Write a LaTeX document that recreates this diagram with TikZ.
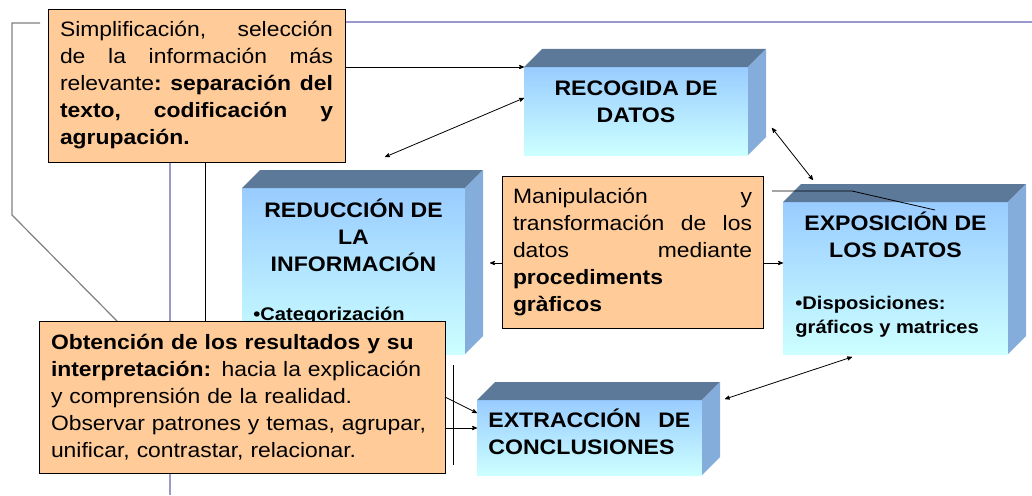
\documentclass[tikz,border=0pt]{standalone}
\usepackage{fontspec}
\setmainfont{Liberation Sans}[FakeStretch=1.1]
\usetikzlibrary{arrows}
\usetikzlibrary{positioning}
\definecolor{peach}{RGB}{255,204,153}
\definecolor{facetop}{RGB}{93,121,153}
\definecolor{faceside}{RGB}{132,173,220}
\definecolor{frontup}{RGB}{153,204,255}
\definecolor{frontdown}{RGB}{204,255,255}
\definecolor{slideline}{RGB}{153,153,204}
% top and right faces of a box
\newcommand{\cubefaces}[1]{%
  \fill[facetop] (#1.north west) -- ++(18,-18) -- ([shift={(18,-18)}]#1.north east) -- (#1.north east) -- cycle;
  \fill[faceside] (#1.north east) -- ++(18,-18) -- ([shift={(18,-18)}]#1.south east) -- (#1.south east) -- cycle;}

\begin{document}
\begin{tikzpicture}[x=1pt,y=-1pt,>=stealth',line width=0.8pt,
    front/.style={rectangle,inner sep=0pt,outer sep=0pt,top color=frontup,bottom color=frontdown},
    title/.style={font=\fontsize{21}{27}\selectfont\bfseries,align=center,inner sep=0pt},
    bullet/.style={font=\fontsize{18.3}{24}\selectfont\bfseries,align=left,inner sep=0pt},
    note/.style={rectangle,draw=black,line width=0.8pt,fill=peach,inner ysep=4pt,outer sep=0pt,align=justify,font=\fontsize{20.8}{27}\selectfont}]
  \useasboundingbox (0,0) rectangle (1032,495);
  % slide lines
  \draw[slideline,line width=2pt] (170,22) -- (1032,22);
  \draw[slideline,line width=2pt] (170,22) -- (170,495);
  \coordinate (g1) at (40,23);
  \coordinate (g2) at (12,23);
  \coordinate (g3) at (12,215);
  \coordinate (g4) at (117,321);
  \draw[gray,line width=1.2pt] (g1) -- (g2) -- (g3) -- (g4);

  % boxes
  \node[front,minimum width=224pt,minimum height=88pt] (recogida) at (636,111) {};
  \cubefaces{recogida}
  \node[title,below=13.5pt of recogida.north] (recogidaT) {RECOGIDA DE\\DATOS};

  \node[front,minimum width=223pt,minimum height=166pt] (reduccion) at (353.5,271) {};
  \cubefaces{reduccion}
  \node[title,below=10pt of reduccion.north] (reduccionT) {REDUCCIÓN DE\\LA\\INFORMACIÓN};
  \node[bullet,below right=119pt and 11pt of reduccion.north west] (reduccionB) {•Categorización};

  \node[front,minimum width=225pt,minimum height=152pt] (exposicion) at (895.5,278) {};
  \cubefaces{exposicion}
  \node[title,below=9pt of exposicion.north] (exposicionT) {EXPOSICIÓN DE\\LOS DATOS};
  \node[bullet,below right=94pt and 12pt of exposicion.north west] (exposicionB) {•Disposiciones:\\gráficos y matrices};

  \node[front,minimum width=225pt,minimum height=75pt] (extraccion) at (589.5,437.5) {};
  \cubefaces{extraccion}
  \node[title,align=justify,text width=202pt,below right=8pt and 11pt of extraccion.north west] (extraccionT) {EXTRACCIÓN\hfill DE\\CONCLUSIONES};

  % notes
  \node[note,text width=273pt,inner xsep=12pt,minimum height=153pt] (simplif) at (196.5,85.5)
    {Simplificación,\hfill selección\\
     de\hfill la\hfill información\hfill más\\
     relevante\textbf{:}\hfill\textbf{separación}\hfill\textbf{del}\\
     \textbf{texto,}\hfill\textbf{codificación}\hfill\textbf{y}\\
     \textbf{agrupación.}};
  \node[note,text width=239pt,inner xsep=11pt,minimum height=152pt] (manip) at (632.5,252)
    {Manipulación\hfill y\\
     transformación\hfill de\hfill los\\
     datos\hfill mediante\\
     \textbf{procediments}\\
     \textbf{gràficos}};
  \node[note,align=left,text width=382pt,inner xsep=12pt,minimum height=152pt] (obtencion) at (242,397)
    {\textbf{Obtención de los resultados y su}\\
     \textbf{interpretación:} hacia la explicación\\
     y comprensión de la realidad.\\
     Observar patrones y temas, agrupar,\\
     unificar, contrastar, relacionar.};

  % connectors
  \coordinate (vx) at (205,0);
  \draw (simplif.south -| vx) -- (obtencion.north -| vx);
  \path[->] (simplif.east |- recogida.north west) edge (recogida.north west);
  \coordinate (redtop) at (385,157);
  \path[<->] (redtop) edge ([yshift=13pt]recogida.west);
  \coordinate (recside) at (772,128);
  \coordinate (expotop) at (813,180);
  \path[<->] (recside) edge (expotop);
  \coordinate (redside) at (490,263);
  \path[->] (manip.west |- redside) edge (redside);
  \path[->] (manip.east |- redside) edge (exposicion.west |- redside);
  \coordinate (mbend) at (852,191);
  \coordinate (mtip) at (935,210);
  \draw ([xshift=9pt,yshift=-15pt]manip.north east) -- (mbend) -- (mtip);
  \coordinate (expobot) at (852,357);
  \coordinate (extrtop) at (725,399);
  \path[<->] (extrtop) edge (expobot);
  \path[->] (obtencion.east) edge ([yshift=24.5pt]extraccion.west);
  \path[->] ([yshift=-31pt]obtencion.east) edge ([yshift=9.5pt]extraccion.west);
  \coordinate (bar1) at (453,365);
  \coordinate (bar2) at (453,465);
  \draw (bar1) -- (bar2);
\end{tikzpicture}
\end{document}
